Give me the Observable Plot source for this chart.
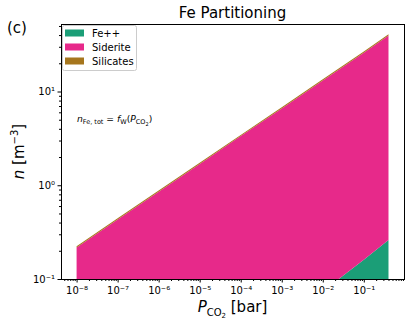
<!DOCTYPE html>
<html>
<head>
<meta charset="utf-8">
<script src="https://cdn.jsdelivr.net/npm/d3@7"></script>
<script src="https://cdn.jsdelivr.net/npm/@observablehq/plot@0.6"></script>
<style>
  html, body { margin: 0; padding: 0; background: #fff; }
  #chart { width: 411px; height: 325px; }
</style>
</head>
<body>
<div id="chart"></div>
<script>
// ---- data ----
const pco2      = [1e-8, 1e-7, 1e-6, 1e-5, 1e-4, 1e-3, 1e-2, 1e-1, 0.4];
const feII      = [0.00076, 0.0016, 0.0035, 0.0074, 0.016, 0.034, 0.074, 0.16, 0.26];
const siderite  = [0.216, 0.43, 0.85, 1.68, 3.33, 6.57, 13.0, 25.8, 39.3];
const silicates = [0.007, 0.013, 0.026, 0.052, 0.10, 0.20, 0.40, 0.80, 1.2];
const seriesNames  = ["Fe++", "Siderite", "Silicates"];
const seriesColors = ["#1b9e77", "#e7298a", "#a6761d"];
const xTickExps = [-8, -7, -6, -5, -4, -3, -2, -1];
const yTickExps = [-1, 0, 1];

// ---- build stacked table ----
const seriesValues = [feII, siderite, silicates];
const rows = [];
pco2.forEach((p, i) => {
  let base = 1e-4;
  seriesValues.forEach((vals, s) => {
    const top = (s === 0 ? 0 : base) + vals[i];
    rows.push({p, series: seriesNames[s], y1: base, y2: top});
    base = top;
  });
});

const supMap = {"-": "⁻", "0": "⁰", "1": "¹", "2": "²", "3": "³", "4": "⁴", "5": "⁵", "6": "⁶", "7": "⁷", "8": "⁸", "9": "⁹"};
const pow10Label = e => "10" + String(e).split("").map(c => supMap[c]).join("");

const xDomain = [10 ** -8.38, 10 ** -0.02];
const yDomain = [0.1, 10 ** 1.72];
const minorX = [], minorY = [];
for (let e = -9; e <= 0; e++) for (let k = 2; k <= 9; k++) {
  const v = k * 10 ** e;
  if (v >= xDomain[0] && v <= xDomain[1]) minorX.push(v);
}
for (let e = -1; e <= 1; e++) for (let k = 2; k <= 9; k++) {
  const v = k * 10 ** e;
  if (v >= yDomain[0] && v <= yDomain[1]) minorY.push(v);
}

const svg = Plot.plot({
  width: 411, height: 325,
  marginLeft: 61, marginRight: 7, marginTop: 24, marginBottom: 46,
  style: {fontFamily: "DejaVu Sans", fontSize: "10px", color: "#000", background: "#fff"},
  x: {type: "log", domain: xDomain, label: null},
  y: {type: "log", domain: yDomain, label: null},
  color: {domain: seriesNames, range: seriesColors},
  marks: [
    Plot.areaY(rows, {x: "p", y1: "y1", y2: "y2", z: "series", fill: "series", clip: true}),
    Plot.axisX({ticks: minorX, tickSize: 2, tickFormat: () => "", stroke: "#000"}),
    Plot.axisX({ticks: xTickExps.map(e => 10 ** e), tickSize: 3.5, tickPadding: 4, tickFormat: d => pow10Label(Math.round(Math.log10(d))), stroke: "#000", fill: "#000"}),
    Plot.axisY({ticks: minorY, tickSize: 2, tickFormat: () => "", stroke: "#000"}),
    Plot.axisY({ticks: yTickExps.map(e => 10 ** e), tickSize: 3.5, tickPadding: 3, tickFormat: d => pow10Label(Math.round(Math.log10(d))), stroke: "#000", fill: "#000"}),
    Plot.frame({stroke: "#000", strokeWidth: 1})
  ]
});
document.getElementById("chart").appendChild(svg);

const s = d3.select(svg);
const font = "DejaVu Sans";
const plotCenterX = (61 + 404) / 2;
const plotCenterY = (24 + 279) / 2;

// title
s.append("text").attr("x", plotCenterX).attr("y", 18).attr("text-anchor", "middle")
  .attr("font-family", font).attr("font-size", 15).text("Fe Partitioning");
// panel label
s.append("text").attr("x", 7).attr("y", 33).attr("text-anchor", "start").attr("font-family", font).attr("font-size", 15).text("(c)");

// y label
const yl = s.append("text").attr("transform", `translate(24,${plotCenterY}) rotate(-90)`)
  .attr("text-anchor", "middle").attr("font-family", font).attr("font-size", 15);
yl.append("tspan").attr("font-style", "italic").text("n");
yl.append("tspan").text(" [m");
yl.append("tspan").attr("font-size", 10).attr("dy", -6).text("−3");
yl.append("tspan").attr("dy", 6).text("]");

// x label
const xl = s.append("text").attr("x", plotCenterX).attr("y", 312)
  .attr("text-anchor", "middle").attr("font-family", font).attr("font-size", 15);
xl.append("tspan").attr("font-style", "italic").text("P");
xl.append("tspan").attr("font-size", 10).attr("dy", 4).text("CO");
xl.append("tspan").attr("font-size", 7).attr("dy", 2).text("2");
xl.append("tspan").attr("dy", -6).text(" [bar]");

// annotation
const an = s.append("text").attr("x", 77).attr("y", 122).attr("text-anchor", "start").attr("font-family", font).attr("font-size", 9.2);
an.append("tspan").attr("font-style", "italic").text("n");
an.append("tspan").attr("font-size", 6.5).attr("dy", 2).text("Fe, tot");
an.append("tspan").attr("dy", -2).text(" = ");
an.append("tspan").attr("font-style", "italic").text("f");
an.append("tspan").attr("font-size", 6.5).attr("dy", 2).text("W");
an.append("tspan").attr("dy", -2).text("(");
an.append("tspan").attr("font-style", "italic").text("P");
an.append("tspan").attr("font-size", 6.5).attr("dy", 2).text("CO");
an.append("tspan").attr("font-size", 5).attr("dy", 1.5).text("2");
an.append("tspan").attr("dy", -3.5).text(")");

// legend
const lg = s.append("g").attr("text-anchor", "start");
lg.append("rect").attr("x", 62.5).attr("y", 25.5).attr("width", 74).attr("height", 45)
  .attr("rx", 2).attr("fill", "#fff").attr("fill-opacity", 0.85).attr("stroke", "#ccc");
seriesNames.forEach((name, i) => {
  const cy = 33 + i * 14;
  lg.append("rect").attr("x", 65).attr("y", cy - 3.5).attr("width", 19).attr("height", 7).attr("fill", seriesColors[i]);
  lg.append("text").attr("x", 92).attr("y", cy + 3.5).attr("font-family", font).attr("font-size", 10).text(name);
});
</script>
</body>
</html>
